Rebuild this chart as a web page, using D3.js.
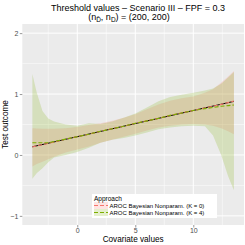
<!DOCTYPE html>
<html>
<head>
<meta charset="utf-8">
<script src="https://cdn.jsdelivr.net/npm/d3@7"></script>
<style>
  body { margin: 0; background: #fff; }
  text { font-family: "Liberation Sans", Arial, sans-serif; }
</style>
</head>
<body>
<div id="chart"></div>
<script>
// covariate grid and posterior bands
var covariate = [-3.87, -3.5, -3, -2.5, -2, -1, 0, 1, 2, 3, 4, 5, 6, 7, 8, 9, 10, 11, 11.7, 12.4, 13, 13.5];
var k0Upper = [0.44, 0.435, 0.43, 0.43, 0.43, 0.44, 0.46, 0.49, 0.52, 0.56, 0.61, 0.67, 0.75, 0.83, 0.89, 0.93, 0.96, 1.02, 1.08, 1.19, 1.29, 1.38];
var k0Lower = [-0.19, -0.15, -0.11, -0.07, -0.03, 0.04, 0.09, 0.14, 0.2, 0.25, 0.3, 0.35, 0.4, 0.45, 0.48, 0.5, 0.51, 0.5, 0.48, 0.44, 0.39, 0.34];
var k4Upper = [1.33, 1.03, 0.72, 0.6, 0.55, 0.5, 0.48, 0.52, 0.51, 0.55, 0.61, 0.68, 0.78, 0.88, 0.95, 0.99, 1.02, 1.06, 1.09, 1.17, 1.27, 1.36];
var k4Lower = [-0.39, -0.3, -0.22, -0.12, -0.04, 0.0, 0.05, 0.12, 0.2, 0.25, 0.28, 0.32, 0.37, 0.42, 0.45, 0.47, 0.48, 0.47, 0.32, 0.0, -0.35, -0.58];
var k0Est = [0.13, 0.15, 0.17, 0.19, 0.21, 0.26, 0.30, 0.34, 0.39, 0.43, 0.47, 0.52, 0.56, 0.60, 0.65, 0.69, 0.73, 0.77, 0.80, 0.83, 0.86, 0.885];
var k4Est = [0.2, 0.2, 0.2, 0.2, 0.22, 0.26, 0.30, 0.34, 0.39, 0.43, 0.47, 0.52, 0.56, 0.60, 0.65, 0.69, 0.73, 0.76, 0.78, 0.80, 0.81, 0.82];
var trueX = [-3.87, 13.5];
var trueY = [0.134, 0.88];

var xTicks = [0, 5, 10];
var xMinor = [-2.5, 2.5, 7.5, 12.5];
var yTicks = [-1, 0, 1, 2];
var yMinor = [-0.5, 0.5, 1.5];
var yLimits = [-1, 2];

var seriesNames = ["AROC Bayesian Nonparam. (K = 0)", "AROC Bayesian Nonparam. (K = 4)"];
var seriesColors = ["#F8766D", "#7CAE00"];

var W = 245, H = 245;
var panel = {left: 22.3, right: 244, top: 24, bottom: 225};

var svg = d3.select("#chart").append("svg")
    .attr("width", W)
    .attr("height", H);

// ggplot style 5% expansion
var xr = d3.extent(covariate), xpad = (xr[1] - xr[0]) * 0.05;
var ypad = (yLimits[1] - yLimits[0]) * 0.05;

var x = d3.scaleLinear()
    .domain([xr[0] - xpad, xr[1] + xpad])
    .range([panel.left, panel.right]);

var y = d3.scaleLinear()
    .domain([yLimits[0] - ypad, yLimits[1] + ypad])
    .range([panel.bottom, panel.top]);

svg.append("rect")
    .attr("x", panel.left).attr("y", panel.top)
    .attr("width", panel.right - panel.left)
    .attr("height", panel.bottom - panel.top)
    .attr("fill", "#EBEBEB");

// grid
svg.selectAll(".xminor").data(xMinor).enter().append("line")
    .attr("x1", function(d) { return x(d); }).attr("x2", function(d) { return x(d); })
    .attr("y1", panel.top).attr("y2", panel.bottom)
    .attr("stroke", "#fff").attr("stroke-width", 0.5);
svg.selectAll(".yminor").data(yMinor).enter().append("line")
    .attr("y1", function(d) { return y(d); }).attr("y2", function(d) { return y(d); })
    .attr("x1", panel.left).attr("x2", panel.right)
    .attr("stroke", "#fff").attr("stroke-width", 0.5);
svg.selectAll(".xmajor").data(xTicks).enter().append("line")
    .attr("x1", function(d) { return x(d); }).attr("x2", function(d) { return x(d); })
    .attr("y1", panel.top).attr("y2", panel.bottom)
    .attr("stroke", "#fff").attr("stroke-width", 1);
svg.selectAll(".ymajor").data(yTicks).enter().append("line")
    .attr("y1", function(d) { return y(d); }).attr("y2", function(d) { return y(d); })
    .attr("x1", panel.left).attr("x2", panel.right)
    .attr("stroke", "#fff").attr("stroke-width", 1);

// ribbons
var bands = [
  {lower: k0Lower, upper: k0Upper, color: seriesColors[0]},
  {lower: k4Lower, upper: k4Upper, color: seriesColors[1]}
];
var area = d3.area()
    .x(function(d) { return x(d.x); })
    .y0(function(d) { return y(d.lo); })
    .y1(function(d) { return y(d.hi); });

bands.forEach(function(b) {
  var pts = covariate.map(function(c, i) { return {x: c, lo: b.lower[i], hi: b.upper[i]}; });
  svg.append("path")
    .attr("d", area(pts))
    .attr("fill", b.color)
    .attr("fill-opacity", 0.2);
});

var line = d3.line()
    .x(function(d) { return x(d[0]); })
    .y(function(d) { return y(d[1]); });

svg.append("path")
    .attr("d", line(d3.zip(trueX, trueY)))
    .attr("fill", "none").attr("stroke", "#000").attr("stroke-width", 1);

[k0Est, k4Est].forEach(function(est, i) {
  svg.append("path")
    .attr("d", line(d3.zip(covariate, est)))
    .attr("fill", "none")
    .attr("stroke", seriesColors[i])
    .attr("stroke-width", 1.1)
    .attr("stroke-dasharray", "4,2");
});

// axes
var xAxis = d3.axisBottom(x).tickValues(xTicks).tickSize(2.5).tickPadding(1);
var yAxis = d3.axisLeft(y).tickValues(yTicks).tickSize(2.5).tickPadding(1.5)
    .tickFormat(function(d) { return d < 0 ? "\u2212" + Math.abs(d) : d; });

var gx = svg.append("g").attr("transform", "translate(0," + panel.bottom + ")").call(xAxis);
var gy = svg.append("g").attr("transform", "translate(" + panel.left + ",0)").call(yAxis);
[gx, gy].forEach(function(g) {
  g.select(".domain").remove();
  g.selectAll(".tick line").attr("stroke", "#333").attr("stroke-width", 0.5);
  g.selectAll(".tick text").attr("fill", "#4D4D4D").style("font-size", "7px")
    .style("font-family", "Liberation Sans, Arial, sans-serif");
});

svg.append("text")
    .attr("x", (panel.left + panel.right) / 2).attr("y", 242)
    .attr("text-anchor", "middle").style("font-size", "8.2px")
    .text("Covariate values");

svg.append("text")
    .attr("transform", "translate(8," + (panel.top + panel.bottom) / 2 + ") rotate(-90)")
    .attr("text-anchor", "middle").style("font-size", "8.2px")
    .text("Test outcome");

// title
svg.append("text")
    .attr("x", 138).attr("y", 10.5)
    .attr("text-anchor", "middle").style("font-size", "9px")
    .text("Threshold values \u2013 Scenario III \u2013 FPF = 0.3");

var sub = svg.append("text")
    .attr("x", 129).attr("y", 20)
    .attr("text-anchor", "middle").style("font-size", "9px");
sub.append("tspan").text("(n");
sub.append("tspan").attr("dy", 2).style("font-size", "6.5px").text("D\u0304");
sub.append("tspan").attr("dy", -2).text(", n");
sub.append("tspan").attr("dy", 2).style("font-size", "6.5px").text("D");
sub.append("tspan").attr("dy", -2).text(") = (200, 200)");

// legend
var lg = svg.append("g").attr("transform", "translate(92,194)");
lg.append("rect").attr("width", 125).attr("height", 24).attr("fill", "#fff");
lg.append("text").attr("x", 2).attr("y", 6.5).style("font-size", "6.5px").text("Approach");
seriesNames.forEach(function(name, i) {
  var row = lg.append("g").attr("transform", "translate(2," + (8 + i * 7) + ")");
  row.append("rect").attr("width", 14).attr("height", 7)
    .attr("fill", seriesColors[i]).attr("fill-opacity", 0.2);
  row.append("line").attr("x1", 0).attr("x2", 14).attr("y1", 3.5).attr("y2", 3.5)
    .attr("stroke", seriesColors[i]).attr("stroke-width", 1.1)
    .attr("stroke-dasharray", "4,2");
  row.append("text").attr("x", 15.5).attr("y", 5.8).style("font-size", "6px").text(name);
});
</script>
</body>
</html>
